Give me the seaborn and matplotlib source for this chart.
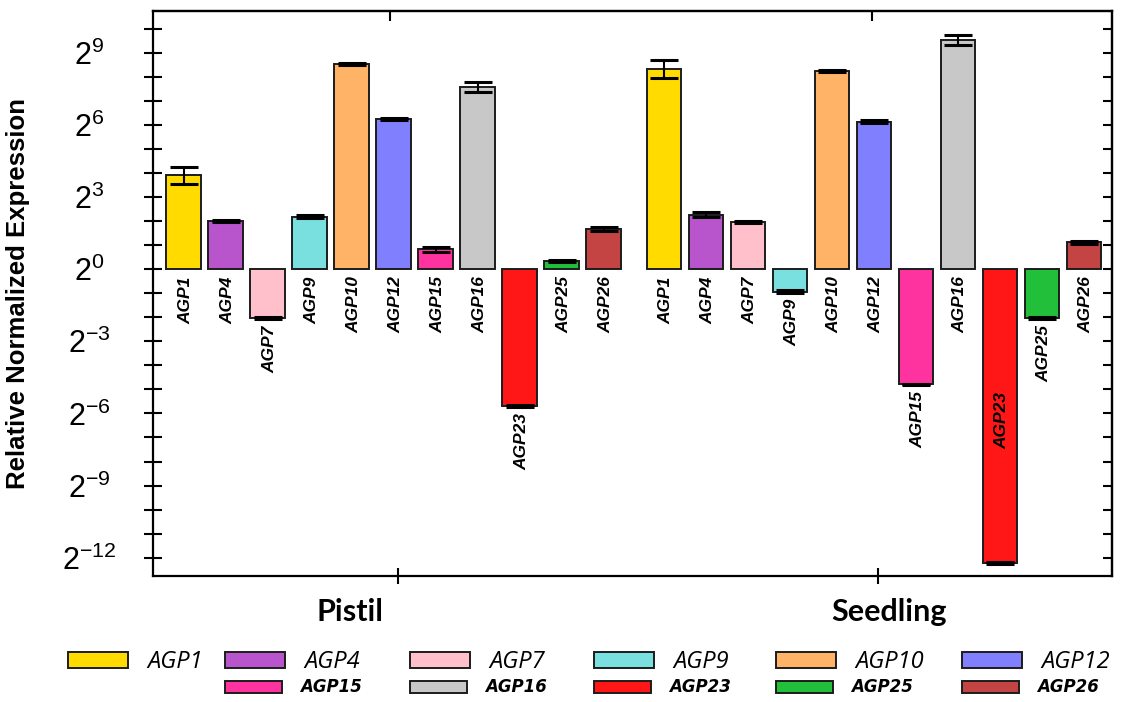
import matplotlib
matplotlib.use("Agg")
import matplotlib.pyplot as plt
import matplotlib.patches as mpatches
from matplotlib.font_manager import FontProperties
from matplotlib.ticker import FixedLocator, NullFormatter, FuncFormatter
import numpy as np
import pandas as pd
import seaborn as sns

# ---------------------------------------------------------------
# data (log2 of relative normalized expression)
# ---------------------------------------------------------------
genes = ["AGP1", "AGP4", "AGP7", "AGP9", "AGP10", "AGP12",
         "AGP15", "AGP16", "AGP23", "AGP25", "AGP26"]
tissues = ["Pistil", "Seedling"]

pistil_log2 = [3.9, 2.0, -2.05, 2.18, 8.53, 6.25, 0.83, 7.58, -5.7, 0.35, 1.67]
pistil_err = [0.35, 0.05, 0.04, 0.06, 0.05, 0.04, 0.1, 0.2, 0.04, 0.05, 0.08]
seedling_log2 = [8.32, 2.26, 1.97, -0.93, 8.24, 6.14, -4.79, 9.53, -12.22, -2.04, 1.11]
seedling_err = [0.37, 0.1, 0.05, 0.06, 0.05, 0.08, 0.03, 0.19, 0.05, 0.03, 0.06]

colors = ["#FFDB00", "#B955CC", "#FFC0CB", "#7ADFDF", "#FFB366", "#8080FF",
          "#FF33A0", "#C8C8C8", "#FF1616", "#22BF3A", "#C44444"]
palette = dict(zip(genes, colors))

# layout: bar spacing = 1, extra gap between the two tissue groups
group_gap = 1.44
n = len(genes)
pos = list(range(n)) + [n - 1 + group_gap + i for i in range(n)]

df = pd.DataFrame({
    "gene": genes * 2,
    "tissue": [tissues[0]] * n + [tissues[1]] * n,
    "log2": pistil_log2 + seedling_log2,
    "err": pistil_err + seedling_err,
    "pos": pos,
})

# ---------------------------------------------------------------
# figure
# ---------------------------------------------------------------
sns.set_style("white")
plt.rcParams["font.family"] = ["Liberation Sans", "DejaVu Sans"]
plt.rcParams["text.color"] = "black"
plt.rcParams["axes.labelcolor"] = "black"
plt.rcParams["xtick.color"] = "black"
plt.rcParams["ytick.color"] = "black"
plt.rcParams["mathtext.fontset"] = "custom"
plt.rcParams["mathtext.rm"] = "Liberation Sans"
plt.rcParams["mathtext.default"] = "regular"

fig = plt.figure(figsize=(11.31, 7.02), dpi=100)
ax = fig.add_axes([0.1353, 0.1799, 0.983 - 0.1353, 0.9848 - 0.1799])

sns.barplot(data=df, x="pos", y="log2", hue="gene", hue_order=genes,
            palette=palette, saturation=1, native_scale=True, dodge=False,
            width=0.83, errorbar=None, edgecolor="#1c1c1c", linewidth=1.4,
            legend=False, ax=ax)
ax.errorbar(df["pos"], df["log2"], yerr=df["err"], fmt="none",
            ecolor="black", elinewidth=1.5, capsize=9.8, capthick=2.2, zorder=5)

ax.set_xlim(-0.726, 22.1)
ax.set_ylim(-12.75, 10.75)

# gene names under each bar (below zero, or below the bar end when negative)
for _, r in df.iterrows():
    y = min(r["log2"], 0) - 0.3
    if r["log2"] < -8:
        y = -5.1
    ax.text(r["pos"] + 0.05, y, r["gene"], rotation=90, ha="center", va="top",
            fontsize=12.5, fontweight="bold", fontstyle="italic", color="black")

# y axis: powers of two
ax.yaxis.set_major_locator(FixedLocator(list(range(-12, 10, 3))))
ax.yaxis.set_minor_locator(FixedLocator(list(range(-12, 11))))
ax.yaxis.set_major_formatter(FuncFormatter(lambda v, p: rf"$2^{{{int(v)}}}$"))
ax.tick_params(axis="y", which="both", left=True, right=False,
               direction="inout", length=13.5, width=1.5, color="black",
               labelsize=22, pad=39)
for t in ax.yaxis.get_major_ticks():
    t.label1.set_horizontalalignment("center")
ax.set_ylabel("Relative Normalized Expression", fontsize=18.5, fontweight="bold")
ax.yaxis.set_label_coords(-0.128, 0.5)

sec_y = ax.secondary_yaxis("right")
sec_y.yaxis.set_major_locator(FixedLocator(list(range(-12, 11))))
sec_y.yaxis.set_major_formatter(NullFormatter())
sec_y.tick_params(axis="y", right=True, direction="in", length=6.5, width=1.5)

# x axis: one tick per tissue group
ax.set_xticks([5.1, 16.54])
ax.set_xticklabels(["", ""])
ax.set_xlabel("")
ax.tick_params(axis="x", bottom=True, top=False, direction="inout",
               length=11.5, width=1.5, color="black")
sec_x = ax.secondary_xaxis("top")
sec_x.set_xticks([4.92, 16.4])
sec_x.xaxis.set_major_formatter(NullFormatter())
sec_x.tick_params(axis="x", top=True, direction="in", length=7, width=1.5)

for sp in ax.spines.values():
    sp.set_color("black")
    sp.set_linewidth(1.6)
for a in (sec_x, sec_y):
    for sp in a.spines.values():
        sp.set_linewidth(1.6)

group_font = FontProperties(family=["Lato", "DejaVu Sans"], weight="bold", size=22)
fig.text(350 / 1131, 1 - 612 / 702, tissues[0], ha="center", va="center",
         fontproperties=group_font)
fig.text(889 / 1131, 1 - 612 / 702, tissues[1], ha="center", va="center",
         fontproperties=group_font)

# legend: two rows on a fixed column grid
col_x = [68, 225, 410, 594, 776, 962]
row1 = FontProperties(family=["Open Sans", "DejaVu Sans"], style="italic", size=17)
row2 = FontProperties(family=["DejaVu Sans"], style="oblique", weight="bold", size=12)
for i, g in enumerate(genes):
    if i < 6:
        x, y, prop, hl, hh, pad = col_x[i], 662, row1, 2.54, 0.68, 0.8
    else:
        x, y, prop, hl, hh, pad = col_x[i - 5], 687.5, row2, 3.4, 0.7, 1.08
    h = mpatches.Patch(facecolor=palette[g], edgecolor="#1c1c1c", linewidth=1.4)
    fig.legend(handles=[h], labels=[g], loc="center left",
               bbox_to_anchor=(x / 1131, 1 - y / 702), frameon=False,
               borderpad=0, borderaxespad=0, prop=prop, handlelength=hl,
               handleheight=hh, handletextpad=pad)

fig.savefig("out.png", dpi=100)
